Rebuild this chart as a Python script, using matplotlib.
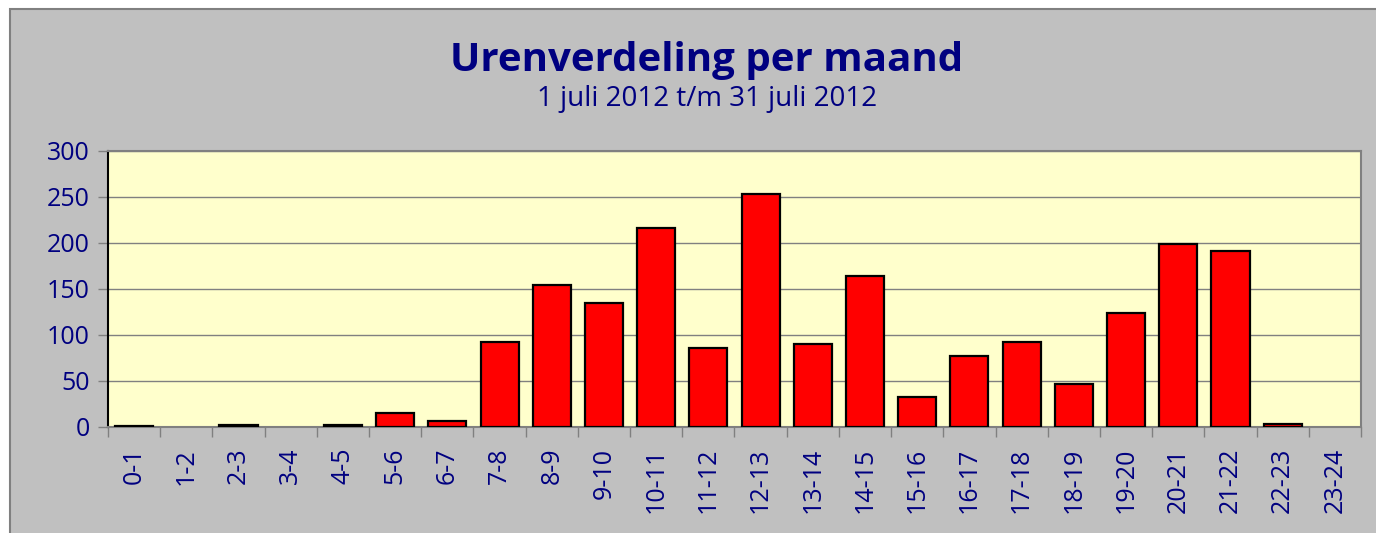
import matplotlib.pyplot as plt
from matplotlib.patches import Rectangle
import numpy as np

labels = ["0-1", "1-2", "2-3", "3-4", "4-5", "5-6", "6-7", "7-8", "8-9", "9-10",
          "10-11", "11-12", "12-13", "13-14", "14-15", "15-16", "16-17", "17-18",
          "18-19", "19-20", "20-21", "21-22", "22-23", "23-24"]
hours = [1, 0, 2, 0, 2, 15, 7, 92, 154, 135,
         216, 86, 253, 90, 164, 33, 77, 92,
         47, 124, 199, 191, 3, 0]

NAVY = "#000080"
plt.rcParams['font.family'] = ['Open Sans', 'DejaVu Sans']

fig = plt.figure(figsize=(13.76, 5.33), dpi=100)
fig.patch.set_facecolor("white")
fig.patches.append(Rectangle((10 / 1376, -0.01), 1.0, 1 - 9 / 533 + 0.01,
                             transform=fig.transFigure, facecolor="#C0C0C0",
                             edgecolor="#808080", linewidth=1.5, zorder=-10))

ax = fig.add_axes([108 / 1376, 1 - 427 / 533, (1361 - 108) / 1376, (427 - 151) / 533])
ax.set_zorder(1)
ax.set_facecolor("#FFFFCC")

x = np.arange(len(labels))
edge_w = [1.6 if h > 0 else 0 for h in hours]
ax.bar(x, hours, width=0.73, color="#FF0000", edgecolor="black", linewidth=edge_w, zorder=3)

ax.set_xlim(-0.5, len(labels) - 0.5)
ax.set_ylim(0, 300)
ax.set_yticks(range(0, 301, 50))
ax.yaxis.grid(True, color="#808080", linewidth=1, zorder=1)

ax.set_xticks(x)
ax.set_xticklabels(labels, rotation=90, fontsize=18, color=NAVY)
ax.tick_params(axis="x", which="major", length=0, pad=15)
ax.set_xticks(np.arange(-0.5, len(labels)), minor=True)
ax.tick_params(axis="x", which="minor", length=7, color="#808080", width=1)
ax.tick_params(axis="y", length=7, color="#808080", width=1, labelsize=18,
               labelcolor=NAVY, pad=6)

for side in ["top", "right"]:
    ax.spines[side].set_color("#808080")
    ax.spines[side].set_linewidth(1.5)
ax.spines["left"].set_color("black")
ax.spines["left"].set_linewidth(1.5)
ax.spines["bottom"].set_color("#808080")
ax.spines["bottom"].set_linewidth(1.5)

fig.text(707 / 1376, 1 - 60 / 533, "Urenverdeling per maand", ha="center", va="center",
         fontsize=29, fontweight="bold", color=NAVY)
fig.text(707 / 1376, 1 - 99 / 533, "1 juli 2012 t/m 31 juli 2012", ha="center", va="center",
         fontsize=20, color=NAVY)

fig.savefig("out.png", dpi=100)
